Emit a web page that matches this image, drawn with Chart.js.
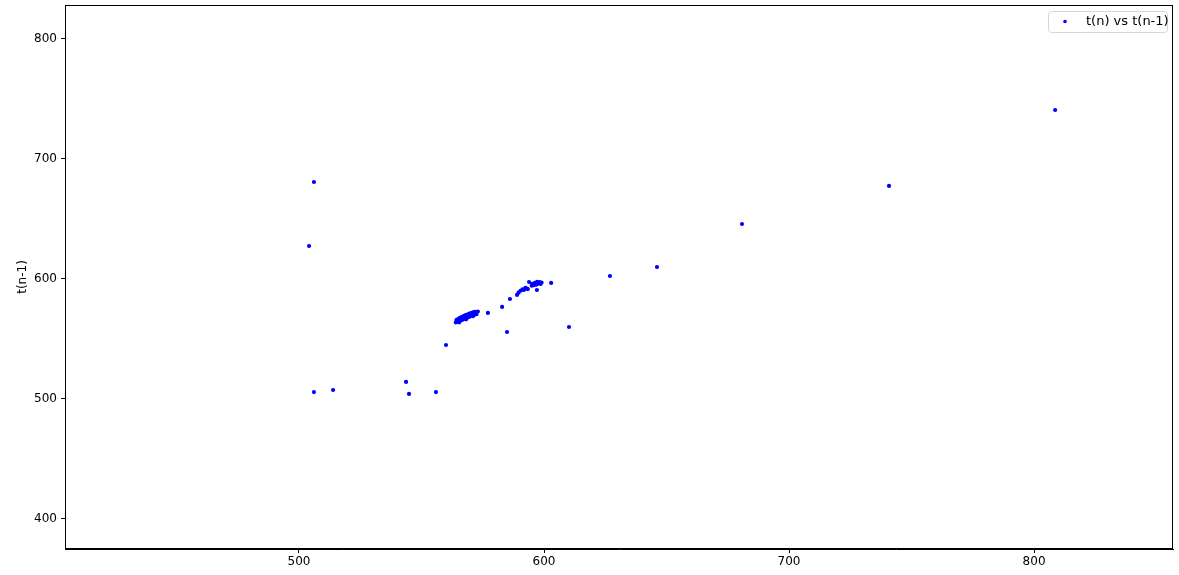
<!DOCTYPE html>
<html>
<head>
<meta charset="utf-8">
<script src="https://cdn.jsdelivr.net/npm/chart.js@4.4.1/dist/chart.umd.min.js"></script>
<style>
  html, body { margin: 0; padding: 0; background: #fff; }
  #wrap { width: 1179px; height: 575px; }
</style>
</head>
<body>
<div id="wrap"><canvas id="chart" width="1179" height="575"></canvas></div>
<script>
// --- data ---
const seriesLabel = 't(n) vs t(n-1)';
const xValues = [
  506.1, 504.1, 506.1, 513.9, 543.7, 544.9, 555.9, 560.0, 584.9, 610.2,
  602.9, 626.9, 646.1, 680.8, 740.8, 808.6, 577.1, 582.9, 586.1, 589.0,
  564.0, 564.3, 564.6, 565.0, 565.2, 565.5, 565.8, 566.0, 566.3, 566.6,
  566.9, 567.2, 567.5, 567.8, 568.1, 568.4, 568.7, 569.0, 569.3, 569.6,
  569.9, 570.2, 570.5, 570.8, 571.1, 571.4, 571.7, 572.0, 572.4, 573.0,
  589.6, 590.4, 591.2, 591.8, 592.4, 593.0, 593.4, 593.9, 595.2, 595.8,
  596.3, 596.8, 597.2, 597.7, 598.2, 598.6, 599.0, 597.1, 595.0, 564.8,
  566.2, 567.6, 569.1, 570.6, 572.2, 565.4, 568.2, 571.0
];
const yValues = [
  680.8, 627.5, 505.8, 507.5, 514.2, 504.2, 505.8, 545.0, 555.8, 560.0,
  596.7, 602.5, 610.0, 645.8, 677.5, 740.8, 571.7, 576.7, 583.3, 586.7,
  563.8, 566.0, 564.4, 566.6, 564.7, 567.4, 565.2, 567.9, 565.9, 568.5,
  566.2, 569.0, 566.9, 569.6, 567.2, 570.1, 568.0, 570.5, 568.4, 571.1,
  568.9, 571.5, 569.4, 572.0, 569.8, 572.3, 570.3, 572.7, 570.7, 572.9,
  588.6, 590.2, 591.4, 590.8, 592.6, 592.0, 591.6, 597.5, 596.0, 594.8,
  596.8, 595.2, 597.6, 596.2, 597.4, 595.8, 597.0, 590.8, 594.4, 565.6,
  566.9, 568.2, 569.3, 571.0, 571.9, 563.9, 566.4, 569.0
];
const xTicks = [500, 600, 700, 800];
const yTicks = [400, 500, 600, 700, 800];
const yTitle = 't(n-1)';

const points = xValues.map((x, i) => ({ x: x, y: yValues[i] }));

// frame around plot area + legend box, matplotlib style
const framePlugin = {
  id: 'frame',
  afterDraw(chart) {
    const { ctx, chartArea: a } = chart;
    ctx.save();
    ctx.strokeStyle = '#000';
    ctx.lineWidth = 1;
    ctx.strokeRect(a.left + 0.5, a.top + 0.5, a.right - a.left - 1, a.bottom - a.top - 1);

    // legend
    const ds = chart.data.datasets[0];
    const bx = 1048.5, by = 11.5, bw = 119, bh = 21;
    ctx.fillStyle = 'rgba(255,255,255,0.8)';
    ctx.strokeStyle = '#d6d6d6';
    ctx.beginPath();
    ctx.roundRect(bx, by, bw, bh, 3);
    ctx.fill();
    ctx.stroke();
    ctx.fillStyle = ds.backgroundColor;
    ctx.beginPath();
    ctx.arc(1065, 21.5, 1.8, 0, Math.PI * 2);
    ctx.fill();
    ctx.fillStyle = '#000';
    ctx.font = '13px "DejaVu Sans"';
    ctx.textBaseline = 'middle';
    ctx.textAlign = 'left';
    ctx.fillText(ds.label, 1086, 22);
    ctx.restore();
  }
};

new Chart(document.getElementById('chart'), {
  type: 'scatter',
  data: {
    datasets: [{
      label: seriesLabel,
      data: points,
      backgroundColor: '#0000ff',
      borderColor: '#0000ff',
      pointRadius: 2.1,
      pointBorderWidth: 0
    }]
  },
  options: {
    responsive: false,
    animation: false,
    layout: { padding: { top: 5, right: 6, left: 0, bottom: 0 } },
    plugins: { legend: { display: false }, tooltip: { enabled: false } },
    scales: {
      x: {
        type: 'linear',
        min: 404.5,
        max: 856.7,
        afterBuildTicks: s => { s.ticks = xTicks.map(v => ({ value: v })); },
        afterFit: s => { s.height = 26; s.paddingLeft = 0; s.paddingRight = 0; },
        grid: { drawOnChartArea: false, tickLength: 4, color: '#000' },
        border: { display: true, color: '#000' },
        ticks: { color: '#000', padding: 2, font: { family: 'DejaVu Sans', size: 12 } }
      },
      y: {
        type: 'linear',
        min: 375.0,
        max: 828.3,
        afterBuildTicks: s => { s.ticks = yTicks.map(v => ({ value: v })); },
        afterFit: s => { s.width = 65; s.paddingTop = 0; s.paddingBottom = 0; },
        grid: { drawOnChartArea: false, tickLength: 4, color: '#000' },
        border: { display: true, color: '#000' },
        ticks: { color: '#000', padding: 4, font: { family: 'DejaVu Sans', size: 12 } },
        title: { display: true, text: yTitle, color: '#000', padding: { top: 16, bottom: 0 }, font: { family: 'DejaVu Sans', size: 12 } }
      }
    }
  },
  plugins: [framePlugin]
});
</script>
</body>
</html>
